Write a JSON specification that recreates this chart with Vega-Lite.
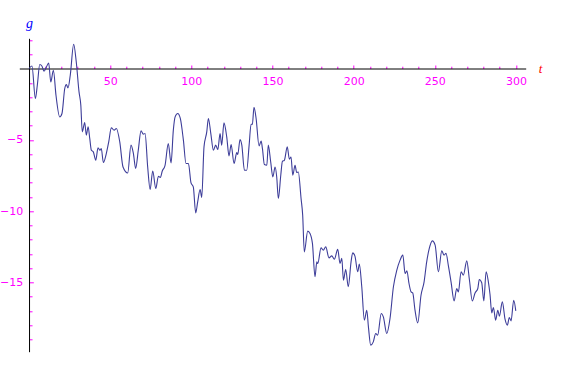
{
  "$schema": "https://vega.github.io/schema/vega-lite/v6.json",
  "autosize": {"type": "none"},
  "padding": {"left": 19.3, "top": 38.3, "right": 51.3, "bottom": 31.3},
  "width": 506.4,
  "height": 313.4,
  "background": "white",
  "config": {"view": {"stroke": null}},
  "data": {"values": [
    {"t":0,"g":0},{"t":1.8,"g":0.18},{"t":3.9,"g":-2.1},{"t":5.1,"g":-1.17},{"t":6.6,"g":0.28},{"t":8.0,"g":0.16},{"t":9.2,"g":-0.19},{"t":10.7,"g":0.11},{"t":12.1,"g":0.39},{"t":13.4,"g":-0.94},{"t":15.0,"g":-0.12},{"t":16.6,"g":-1.87},{"t":18.9,"g":-3.39},{"t":20.3,"g":-3.15},{"t":22.0,"g":-1.4},{"t":23.0,"g":-1.12},{"t":24.0,"g":-1.36},{"t":25.4,"g":-0.47},{"t":27.5,"g":1.7},{"t":29.1,"g":0.46},{"t":30.8,"g":-1.64},{"t":31.9,"g":-2.57},{"t":32.8,"g":-4.44},{"t":34.3,"g":-3.78},{"t":35.3,"g":-4.67},{"t":36.4,"g":-4.09},{"t":37.4,"g":-4.9},{"t":38.4,"g":-5.73},{"t":39.6,"g":-5.84},{"t":41.1,"g":-6.43},{"t":42.5,"g":-5.56},{"t":43.7,"g":-5.73},{"t":44.5,"g":-5.61},{"t":45.8,"g":-6.59},{"t":47.6,"g":-5.96},{"t":49.1,"g":-5.14},{"t":50.7,"g":-4.16},{"t":52.4,"g":-4.32},{"t":53.8,"g":-4.2},{"t":55.9,"g":-5.14},{"t":57.9,"g":-6.9},{"t":60.8,"g":-7.32},{"t":62.8,"g":-5.37},{"t":64.3,"g":-5.96},{"t":65.7,"g":-7.0},{"t":67.3,"g":-5.73},{"t":69.0,"g":-4.37},{"t":70.4,"g":-4.6},{"t":71.5,"g":-4.56},{"t":73.1,"g":-6.9},{"t":74.6,"g":-8.48},{"t":76.2,"g":-7.18},{"t":78.1,"g":-8.41},{"t":79.7,"g":-7.55},{"t":80.9,"g":-7.64},{"t":82.1,"g":-7.18},{"t":83.8,"g":-6.78},{"t":85.8,"g":-5.26},{"t":87.5,"g":-6.62},{"t":88.9,"g":-4.32},{"t":90.0,"g":-3.39},{"t":91.6,"g":-3.15},{"t":93.2,"g":-3.5},{"t":95.1,"g":-5.02},{"t":96.7,"g":-6.66},{"t":98.2,"g":-6.66},{"t":99.8,"g":-8.02},{"t":101.2,"g":-8.3},{"t":102.7,"g":-10.12},{"t":103.9,"g":-9.35},{"t":105.4,"g":-8.48},{"t":106.4,"g":-9.04},{"t":107.8,"g":-5.49},{"t":109.5,"g":-4.44},{"t":110.5,"g":-3.5},{"t":112.0,"g":-4.56},{"t":113.6,"g":-5.73},{"t":115.0,"g":-5.37},{"t":116.3,"g":-5.68},{"t":117.7,"g":-4.56},{"t":118.7,"g":-5.37},{"t":120.1,"g":-3.81},{"t":121.8,"g":-4.79},{"t":123.2,"g":-6.12},{"t":124.5,"g":-5.33},{"t":126.3,"g":-6.66},{"t":128.0,"g":-5.89},{"t":128.6,"g":-6.03},{"t":130.0,"g":-4.98},{"t":131.1,"g":-5.37},{"t":132.7,"g":-7.13},{"t":134.1,"g":-7.13},{"t":135.6,"g":-5.37},{"t":136.8,"g":-3.9},{"t":137.6,"g":-3.92},{"t":138.6,"g":-2.71},{"t":139.9,"g":-3.5},{"t":141.7,"g":-5.42},{"t":143.0,"g":-5.09},{"t":143.8,"g":-5.61},{"t":145.0,"g":-6.73},{"t":146.5,"g":-6.78},{"t":147.4,"g":-5.37},{"t":148.9,"g":-6.55},{"t":150.2,"g":-7.6},{"t":151.6,"g":-6.9},{"t":152.6,"g":-7.6},{"t":153.6,"g":-9.11},{"t":155.1,"g":-7.48},{"t":156.1,"g":-6.5},{"t":157.3,"g":-6.43},{"t":159.1,"g":-5.49},{"t":160.4,"g":-6.36},{"t":161.4,"g":-6.2},{"t":162.5,"g":-7.48},{"t":163.9,"g":-6.78},{"t":164.9,"g":-7.29},{"t":165.9,"g":-7.25},{"t":167.6,"g":-9.11},{"t":168.6,"g":-10.28},{"t":169.6,"g":-12.85},{"t":171.7,"g":-11.4},{"t":173.1,"g":-11.56},{"t":174.6,"g":-12.26},{"t":176.2,"g":-14.6},{"t":177.3,"g":-13.55},{"t":177.9,"g":-13.67},{"t":179.9,"g":-12.57},{"t":181.3,"g":-12.73},{"t":182.8,"g":-12.5},{"t":184.8,"g":-13.27},{"t":186.5,"g":-13.13},{"t":188.1,"g":-13.36},{"t":190.2,"g":-12.68},{"t":191.6,"g":-13.67},{"t":192.7,"g":-13.31},{"t":193.7,"g":-14.84},{"t":195.1,"g":-14.09},{"t":196.7,"g":-15.3},{"t":198.4,"g":-13.55},{"t":199.4,"g":-12.92},{"t":200.8,"g":-13.15},{"t":202.5,"g":-14.25},{"t":203.5,"g":-13.71},{"t":205.0,"g":-15.3},{"t":206.6,"g":-17.64},{"t":208.1,"g":-16.94},{"t":209.1,"g":-18.11},{"t":210.5,"g":-19.39},{"t":212.1,"g":-19.16},{"t":213.6,"g":-18.57},{"t":214.8,"g":-18.69},{"t":217.0,"g":-17.17},{"t":218.3,"g":-17.41},{"t":220.4,"g":-18.57},{"t":222.4,"g":-17.52},{"t":224.5,"g":-15.3},{"t":226.6,"g":-14.13},{"t":228.6,"g":-13.43},{"t":230.3,"g":-13.08},{"t":231.7,"g":-14.37},{"t":232.8,"g":-14.18},{"t":234.1,"g":-15.07},{"t":235.4,"g":-15.66},{"t":236.4,"g":-15.73},{"t":237.8,"g":-16.94},{"t":239.5,"g":-17.83},{"t":241.5,"g":-15.89},{"t":243.4,"g":-14.95},{"t":245.0,"g":-13.55},{"t":246.6,"g":-12.61},{"t":248.5,"g":-12.08},{"t":250.2,"g":-12.38},{"t":252.2,"g":-14.25},{"t":254.3,"g":-12.78},{"t":255.7,"g":-13.08},{"t":256.9,"g":-12.96},{"t":258.4,"g":-13.85},{"t":260.0,"g":-14.95},{"t":261.9,"g":-16.29},{"t":263.5,"g":-15.42},{"t":264.5,"g":-15.66},{"t":266.2,"g":-14.25},{"t":267.6,"g":-14.48},{"t":269.7,"g":-13.48},{"t":271.3,"g":-14.79},{"t":273.1,"g":-16.29},{"t":274.8,"g":-15.73},{"t":276.5,"g":-15.42},{"t":277.4,"g":-14.79},{"t":278.9,"g":-15.02},{"t":280.2,"g":-16.29},{"t":281.6,"g":-14.25},{"t":283.0,"g":-14.95},{"t":284.0,"g":-15.82},{"t":285.1,"g":-17.13},{"t":286.1,"g":-16.75},{"t":287.5,"g":-17.64},{"t":288.8,"g":-16.94},{"t":289.8,"g":-17.36},{"t":291.6,"g":-16.36},{"t":293.3,"g":-17.59},{"t":294.7,"g":-17.99},{"t":295.9,"g":-17.45},{"t":297.0,"g":-17.69},{"t":298.6,"g":-16.24},{"t":299.9,"g":-16.99}
  ]},
  "mark": {"type": "line", "interpolate": "monotone", "color": "#3d3d99", "strokeWidth": 1.1},
  "encoding": {
    "x": {
      "field": "t", "type": "quantitative",
      "scale": {"domain": [-6, 306], "nice": false, "zero": false},
      "axis": {
        "orient": "bottom", "offset": -283.2,
        "values": [10,20,30,40,50,60,70,80,90,100,110,120,130,140,150,160,170,180,190,200,210,220,230,240,250,260,270,280,290,300],
        "labelExpr": "datum.value % 50 === 0 ? datum.label : ''",
        "tickSize": {"condition": {"test": "datum.value % 50 === 0", "value": -3.5}, "value": -2.3},
        "tickColor": "#ff00ff", "tickWidth": 1,
        "labelColor": "#ff00ff", "labelFont": "DejaVu Sans", "labelFontSize": 11,
        "labelPadding": 10, "labelFlush": false, "labelOverlap": false,
        "domainColor": "black", "domainWidth": 1, "grid": false,
        "title": "t", "titleX": 520.7, "titleY": 0, "titleAlign": "center", "titleBaseline": "middle",
        "titleColor": "#ff0000", "titleFont": "Liberation Serif", "titleFontStyle": "italic", "titleFontWeight": "normal", "titleFontSize": 13
      }
    },
    "y": {
      "field": "g", "type": "quantitative",
      "scale": {"domain": [-19.85, 2.12], "nice": false, "zero": false},
      "axis": {
        "orient": "left", "offset": -9.74,
        "values": [-19,-18,-17,-16,-15,-14,-13,-12,-11,-10,-9,-8,-7,-6,-5,-4,-3,-2,-1,1,2],
        "labelExpr": "datum.value % 5 === 0 ? datum.label : ''",
        "tickSize": {"condition": {"test": "datum.value % 5 === 0", "value": -4.3}, "value": -3},
        "tickColor": "#ff00ff", "tickWidth": 1,
        "labelColor": "#ff00ff", "labelFont": "DejaVu Sans", "labelFontSize": 11,
        "labelPadding": 10.5, "labelFlush": false, "labelOverlap": false,
        "domainColor": "black", "domainWidth": 1, "grid": false,
        "title": "g", "titleAngle": 0, "titleX": 0, "titleY": -15, "titleAlign": "center", "titleBaseline": "middle",
        "titleColor": "#0000ff", "titleFont": "Liberation Serif", "titleFontStyle": "italic", "titleFontWeight": "normal", "titleFontSize": 14
      }
    }
  }
}
